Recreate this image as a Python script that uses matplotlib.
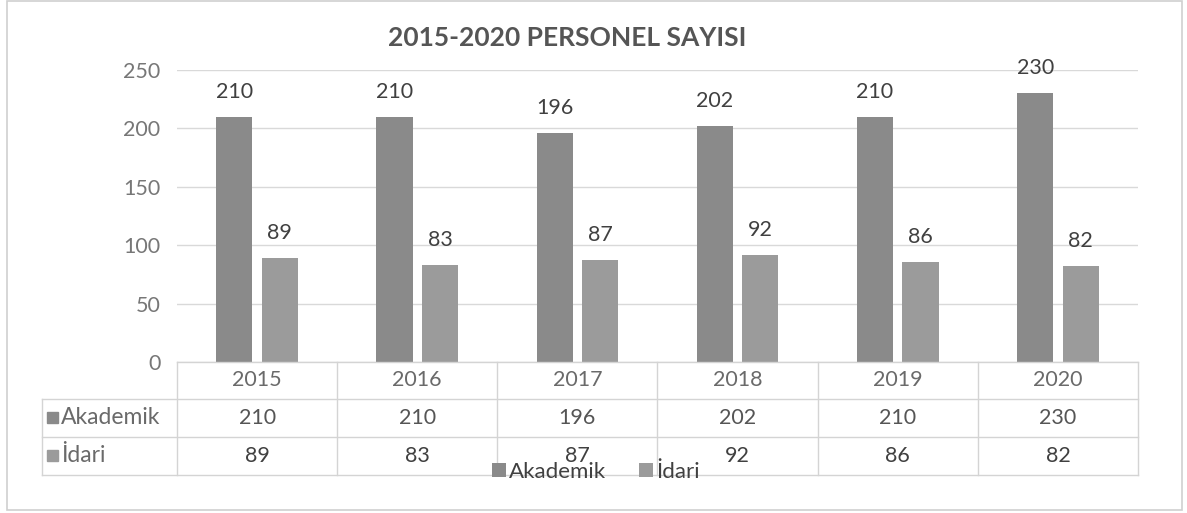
import matplotlib
matplotlib.use("Agg")
import matplotlib.pyplot as plt
from matplotlib.transforms import blended_transform_factory
from matplotlib.patches import Rectangle
from matplotlib.lines import Line2D

years = ["2015", "2016", "2017", "2018", "2019", "2020"]
akademik = [210, 210, 196, 202, 210, 230]
idari = [89, 83, 87, 92, 86, 82]
series_names = ["Akademik", "İdari"]
title = "2015-2020 PERSONEL SAYISI"
yticks = [0, 50, 100, 150, 200, 250]

W, H = 1187, 513
plt.rcParams['font.family'] = ['Lato', 'DejaVu Sans']

fig = plt.figure(figsize=(W / 100, H / 100), dpi=100)
fx = lambda px: px / W
fy = lambda py: 1 - py / H

FS = 15.5

# outer border
fig.patches.append(Rectangle((fx(7), fy(510)), fx(1182) - fx(7), fy(1) - fy(510),
                             transform=fig.transFigure, fill=False,
                             edgecolor="#cfcfcf", linewidth=1.2))

left, right, top, bottom = 177, 1138, 70, 362
ax = fig.add_axes([fx(left), fy(bottom), fx(right) - fx(left), fy(top) - fy(bottom)])

colors = ["#8a8a8a", "#9b9b9b"]
text_dark = "#404040"
text_gray = "#6a6a6a"
x = list(range(len(years)))
off, bw = 0.142, 0.225
b1 = ax.bar([i - off for i in x], akademik, width=bw, color=colors[0], label=series_names[0], zorder=3)
b2 = ax.bar([i + off for i in x], idari, width=bw, color=colors[1], label=series_names[1], zorder=3)

for bars, vals in ((b1, akademik), (b2, idari)):
    for rect, v in zip(bars, vals):
        ax.annotate(str(v), (rect.get_x() + rect.get_width() / 2, v),
                    xytext=(0, 18), textcoords="offset points",
                    ha="center", va="center", fontsize=FS, color=text_dark)

ax.set_xlim(-0.5, len(years) - 0.5)
ax.set_ylim(0, 250)
ax.set_yticks(yticks)
ax.set_yticklabels([str(t) for t in yticks], fontsize=FS, color="#777777")
ax.tick_params(axis="y", length=0, pad=12)
ax.set_xticks([])
ax.grid(axis="y", color="#d9d9d9", linewidth=1.0, zorder=0)
for s in ax.spines.values():
    s.set_visible(False)

# data table
tr = blended_transform_factory(ax.transData, fig.transFigure)
lc = "#d4d4d4"
rows_y = [362, 399, 437, 475]
fig.add_artist(Line2D([fx(left), fx(right)], [fy(rows_y[0])] * 2, color=lc, lw=1, transform=fig.transFigure))
for ry in rows_y[1:]:
    fig.add_artist(Line2D([fx(42), fx(right)], [fy(ry)] * 2, color=lc, lw=1, transform=fig.transFigure))
for i in range(len(years) + 1):
    fig.add_artist(Line2D([i - 0.5, i - 0.5], [fy(rows_y[0]), fy(rows_y[-1])], color=lc, lw=1, transform=tr))
fig.add_artist(Line2D([fx(42)] * 2, [fy(rows_y[1]), fy(rows_y[-1])], color=lc, lw=1, transform=fig.transFigure))

for i, yr in enumerate(years):
    fig.text(i, fy((rows_y[0] + rows_y[1]) / 2), yr, transform=tr, ha="center", va="center",
             fontsize=FS, color=text_gray)
    fig.text(i, fy((rows_y[1] + rows_y[2]) / 2), str(akademik[i]), transform=tr, ha="center", va="center",
             fontsize=FS, color="#555555")
    fig.text(i, fy((rows_y[2] + rows_y[3]) / 2), str(idari[i]), transform=tr, ha="center", va="center",
             fontsize=FS, color=text_dark)

for r, name in enumerate(series_names):
    cy = (rows_y[r + 1] + rows_y[r + 2]) / 2
    fig.patches.append(Rectangle((fx(47), fy(cy + 5)), fx(11), fy(0) - fy(11),
                                 transform=fig.transFigure, color=colors[r]))
    fig.text(fx(61), fy(cy), name, ha="left", va="center", fontsize=16.5, color=text_gray)

# legend
fig.legend(handles=[b1, b2], labels=series_names, loc="center", bbox_to_anchor=(fx(596), fy(472)),
           ncol=2, frameon=False, fontsize=16, handlelength=0.6, handleheight=0.6,
           handletextpad=0.15, columnspacing=1.5, labelcolor=text_dark)

fig.text(fx(567), fy(38), title, ha="center", va="center", fontsize=19, fontweight="bold", color="#555555")

fig.savefig("out.png", dpi=100)
